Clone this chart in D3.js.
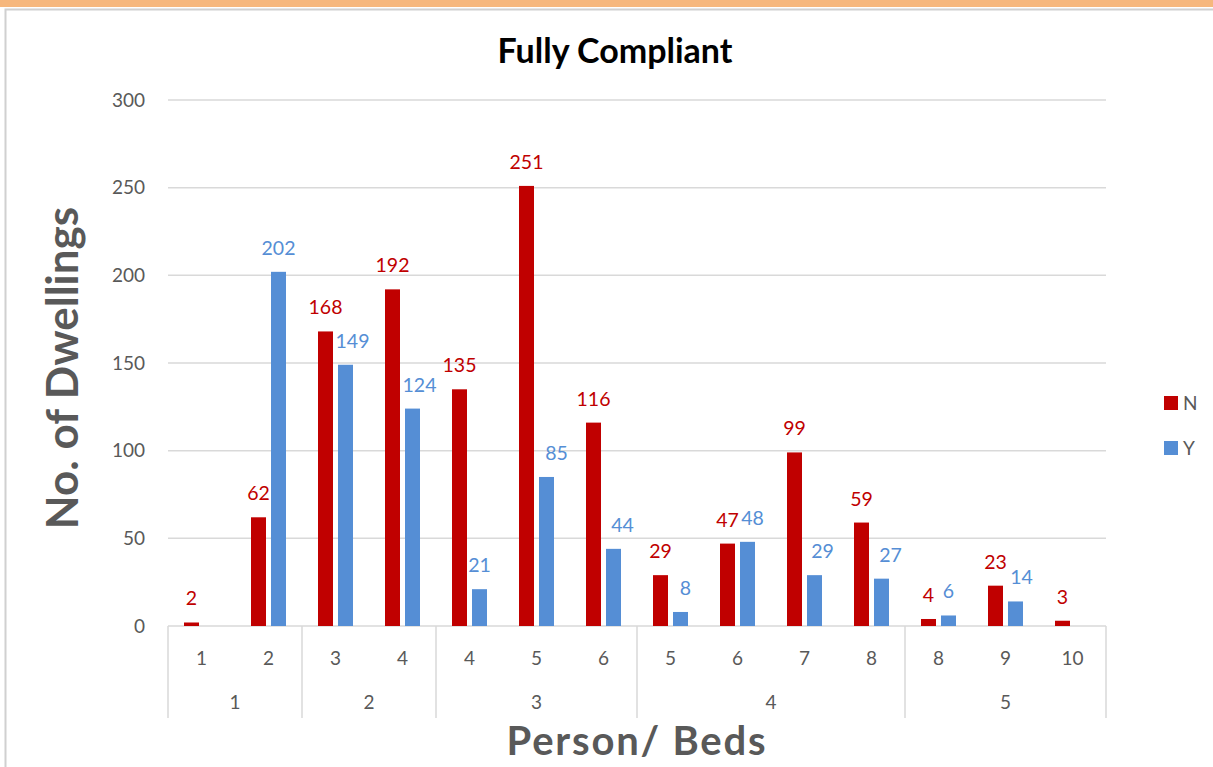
<!DOCTYPE html>
<html><head><meta charset="utf-8">
<script src="https://cdn.jsdelivr.net/npm/d3@7"></script>
<style>html,body{margin:0;padding:0;background:#fff;overflow:hidden}</style>
</head><body>
<svg id="chart" width="1213" height="767"></svg>
<script>
// ---- data ----
const beds = ["1","2","3","4","4","5","6","5","6","7","8","8","9","10"];
const persons = ["1","1","2","2","3","3","3","4","4","4","4","5","5","5"];
const personGroups = ["1","2","3","4","5"];
const seriesNames = ["N","Y"];
const valuesN = [2,62,168,192,135,251,116,29,47,99,59,4,23,3];
const valuesY = [null,202,149,124,21,85,44,8,48,29,27,6,14,null];
const yTicks = [0,50,100,150,200,250,300];
const chartTitle = "Fully Compliant";
const xTitle = "Person/ Beds";
const yTitle = "No. of Dwellings";

// label nudges (layout only, px) to mimic spreadsheet label placement
const labelNudgeY = [0,0,7,7,0,10,9,5,5,8,9,0,6,0];

const colors = {N:"#C00000", Y:"#558ED5"};
const FONT = "Lato, 'Liberation Sans', sans-serif";
const grey = "#595959", lineCol = "#D9D9D9";

const svg = d3.select("#chart");
// top band + frame
svg.append("rect").attr("x",0).attr("y",0).attr("width",1213).attr("height",7).attr("fill","#F6B77D");
svg.append("path").attr("d","M5.5,767 V9.5 H1213").attr("fill","none").attr("stroke","#D0D0D0").attr("stroke-width",2);

const pL=168, pR=1106, pT=100, pB=626;
const idx = d3.range(beds.length);
const x0 = d3.scaleBand().domain(idx).range([pL,pR]).padding(0);
const x1 = d3.scaleBand().domain(seriesNames).range([16,51]).paddingInner(0.25).paddingOuter(0);
const y = d3.scaleLinear().domain([0,300]).range([pB,pT]);

// gridlines
svg.append("g").selectAll("line").data(yTicks.filter(t=>t>0)).join("line")
  .attr("x1",pL).attr("x2",pR).attr("y1",d=>y(d)).attr("y2",d=>y(d))
  .attr("stroke",lineCol).attr("stroke-width",1.5);

// y axis labels via d3 axis
const yAxis = svg.append("g").attr("transform",`translate(${pL-6},0)`)
  .call(d3.axisLeft(y).tickValues(yTicks).tickSize(0).tickPadding(17));
yAxis.select(".domain").remove();
yAxis.selectAll("text").attr("font-family",FONT).attr("font-size",19).attr("fill",grey);

// x axis baseline
svg.append("line").attr("x1",pL).attr("x2",pR).attr("y1",pB).attr("y2",pB)
  .attr("stroke",lineCol).attr("stroke-width",1.5);

// bars
const series = [{name:"N",vals:valuesN},{name:"Y",vals:valuesY}];
series.forEach(s=>{
  const g = svg.append("g");
  g.selectAll("rect").data(idx.filter(i=>s.vals[i]!=null)).join("rect")
    .attr("x",i=>x0(i)+x1(s.name)).attr("width",x1.bandwidth())
    .attr("y",i=>y(s.vals[i])).attr("height",i=>y(0)-y(s.vals[i]))
    .attr("fill",colors[s.name]);
  g.selectAll("text").data(idx.filter(i=>s.vals[i]!=null)).join("text")
    .attr("x",i=>x0(i)+x1(s.name)+x1.bandwidth()/2+(s.name==="Y"?labelNudgeY[i]:0))
    .attr("y",i=>y(s.vals[i])-17)
    .attr("text-anchor","middle").attr("font-family",FONT).attr("font-size",19.5)
    .attr("fill",colors[s.name]).text(i=>s.vals[i]);
});

// category (bed) labels
svg.append("g").selectAll("text").data(idx).join("text")
  .attr("x",i=>x0(i)+x0.bandwidth()/2).attr("y",665)
  .attr("text-anchor","middle").attr("font-family",FONT).attr("font-size",19).attr("fill",grey)
  .text(i=>beds[i]);

// group (person) labels and separators
const groups = personGroups.map(p=>{
  const members = idx.filter(i=>persons[i]===p);
  return {p, start:x0(members[0]), end:x0(members[members.length-1])+x0.bandwidth()};
});
const bounds = [groups[0].start, ...groups.map(g=>g.end)];
svg.append("g").selectAll("line").data(bounds).join("line")
  .attr("x1",d=>d).attr("x2",d=>d).attr("y1",pB).attr("y2",718)
  .attr("stroke",lineCol).attr("stroke-width",1.5);
svg.append("g").selectAll("text").data(groups).join("text")
  .attr("x",g=>(g.start+g.end)/2).attr("y",709)
  .attr("text-anchor","middle").attr("font-family",FONT).attr("font-size",19).attr("fill",grey)
  .text(g=>g.p);

// titles
svg.append("text").attr("x",615).attr("y",63).attr("text-anchor","middle")
  .attr("font-family",FONT).attr("font-weight","bold").attr("font-size",34).attr("fill","#000").text(chartTitle);
svg.append("text").attr("x",637).attr("y",755).attr("text-anchor","middle")
  .attr("font-family",FONT).attr("font-weight","bold").attr("font-size",40).attr("letter-spacing",1.8)
  .attr("fill",grey).text(xTitle);
svg.append("text").attr("transform","translate(78,368) rotate(-90)").attr("text-anchor","middle")
  .attr("font-family",FONT).attr("font-weight","bold").attr("font-size",44).attr("fill",grey).text(yTitle);

// legend
const leg = svg.append("g").selectAll("g").data(seriesNames).join("g")
  .attr("transform",(d,i)=>`translate(1164,${396+i*45})`);
leg.append("rect").attr("width",14).attr("height",14).attr("fill",d=>colors[d]);
leg.append("text").attr("x",19).attr("y",14).attr("font-family",FONT).attr("font-size",19).attr("fill",grey).text(d=>d);
</script>
</body></html>
